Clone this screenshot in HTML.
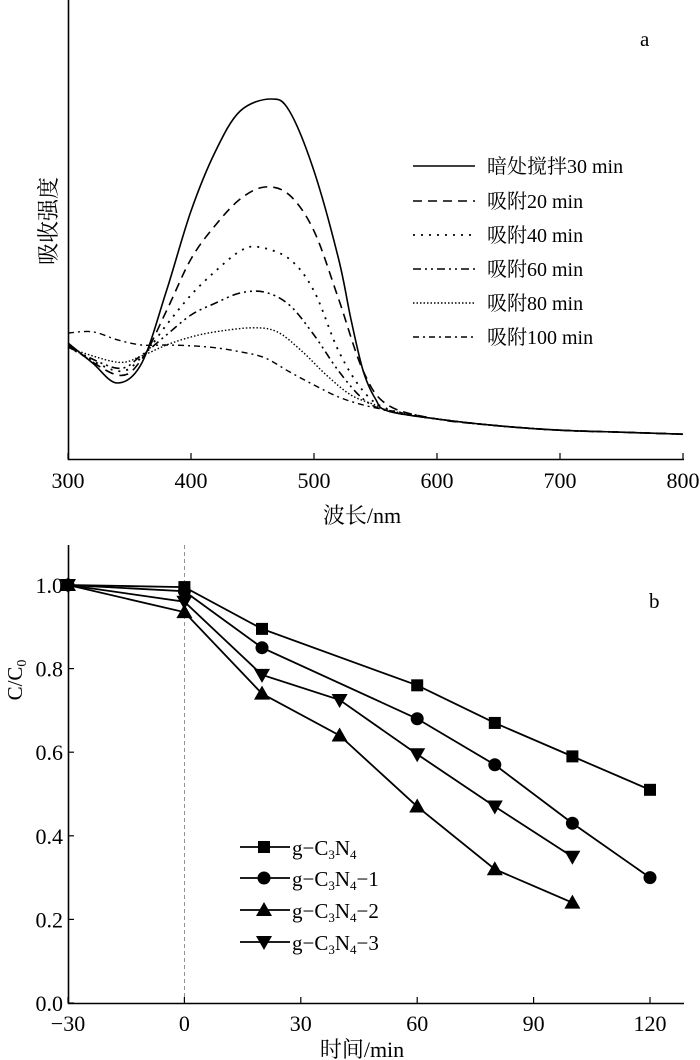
<!DOCTYPE html>
<html><head><meta charset="utf-8">
<style>
body{margin:0;background:#fff;}
svg{display:block;font-family:"Liberation Serif","Noto Serif CJK SC",serif;}
</style></head>
<body>
<svg id="chart" width="700" height="1060" viewBox="0 0 700 1060" xmlns="http://www.w3.org/2000/svg">
<g id="topChart"></g>
<g id="botChart"></g>
</svg>
<script>
// ---- Chart a data ----
const tailWl = [600, 650, 700, 750, 800];
const tailAbs = [0.10, 0.083, 0.072, 0.067, 0.062];
const wlSolid = [300,320,340,360,380,400,420,440,465,480,500,520,530,540,550,560];
const absSolid = [0.29,0.24,0.19,0.24,0.42,0.62,0.77,0.87,0.90,0.87,0.72,0.50,0.35,0.22,0.15,0.12];
const wl20 = [300,340,360,380,400,420,440,460,480,500,520,540,560];
const abs20 = [0.285,0.21,0.25,0.37,0.50,0.585,0.65,0.68,0.66,0.57,0.40,0.22,0.135];
const wl40 = [300,340,360,380,400,420,440,455,480,500,520,540,560];
const abs40 = [0.28,0.22,0.255,0.335,0.41,0.47,0.52,0.53,0.50,0.42,0.27,0.17,0.125];
const wl60 = [300,340,360,380,400,420,440,460,480,500,520,540,560];
const abs60 = [0.28,0.227,0.26,0.31,0.36,0.39,0.415,0.417,0.385,0.31,0.22,0.15,0.12];
const wl80 = [300,340,360,380,400,420,450,470,490,510,530,550,560];
const abs80 = [0.278,0.242,0.258,0.285,0.305,0.318,0.328,0.318,0.27,0.21,0.16,0.135,0.122];
const wl100 = [300,320,340,360,380,400,420,440,460,480,500,520,540,560,580];
const abs100 = [0.315,0.318,0.298,0.285,0.285,0.283,0.278,0.268,0.253,0.218,0.185,0.155,0.135,0.122,0.112];
const legendA = ["暗处搅拌30 min","吸附20 min","吸附40 min","吸附60 min","吸附80 min","吸附100 min"];
const xTicksA = [300,400,500,600,700,800];

// ---- Chart b data ----
const timeTicks = [-30,0,30,60,90,120];
const cTicks = [0.0,0.2,0.4,0.6,0.8,1.0];
const tA = [-30,0,20,60,80,100,120];
const cA = [1.0,0.995,0.895,0.76,0.67,0.59,0.51];
const tB = [-30,0,20,60,80,100,120];
const cB = [1.0,0.985,0.85,0.68,0.57,0.43,0.30];
const tC = [-30,0,20,40,60,80,100];
const cC = [1.0,0.935,0.74,0.64,0.47,0.32,0.24];
const tD = [-30,0,20,40,60,80,100];
const cD = [1.0,0.96,0.785,0.725,0.595,0.47,0.35];

const NS="http://www.w3.org/2000/svg";
function mk(tag, attrs, parent){const el=document.createElementNS(NS,tag);for(const k in attrs)el.setAttribute(k,attrs[k]);parent.appendChild(el);return el;}

// ===== Chart a =====
const gTop=document.getElementById('topChart');
const xa=v=>68+(v-300)*615/500;
const ya=v=>459-v*400;
let e;
e=mk('path',{d:'M68.5 0 V459.5 H684',stroke:'#000','stroke-width':1.6,fill:'none'},gTop);


xTicksA.forEach(t=>{
  e=mk('line',{x1:xa(t),x2:xa(t),y1:459,y2:453,stroke:'#000','stroke-width':1.2},gTop);
  
  
  e=mk('text',{x:xa(t),y:488,'font-size':22,'text-anchor':'middle'},gTop);e.textContent=t;
  
  
});
e=mk('text',{x:362,y:523,'font-size':22,'text-anchor':'middle'},gTop);e.textContent='波长/nm';


e=mk('text',{x:0,y:0,'font-size':22,'text-anchor':'middle',transform:'translate(56,221) rotate(-90)'},gTop);e.textContent='吸收强度';


e=mk('text',{x:640,y:46,'font-size':21},gTop);e.textContent='a';


const seriesA=[[wlSolid,absSolid,'none',1.6],[wl20,abs20,'9 6',1.6],[wl40,abs40,'2 6',1.8],[wl60,abs60,'8 4 2 4 2 4',1.6],[wl80,abs80,'1.5 2',1.4],[wl100,abs100,'6 4 2 4',1.4]];
const names=['curve-dark-30min','curve-ads-20min','curve-ads-40min','curve-ads-60min','curve-ads-80min','curve-ads-100min'];
function smooth(pts){let d='M'+pts[0][0]+' '+pts[0][1];for(let i=0;i<pts.length-1;i++){const p0=pts[i-1]||pts[i],p1=pts[i],p2=pts[i+1],p3=pts[i+2]||p2;const c1x=p1[0]+(p2[0]-p0[0])/6,c1y=p1[1]+(p2[1]-p0[1])/6,c2x=p2[0]-(p3[0]-p1[0])/6,c2y=p2[1]-(p3[1]-p1[1])/6;d+=` C${c1x} ${c1y} ${c2x} ${c2y} ${p2[0]} ${p2[1]}`;}return d;}
seriesA.forEach((s,i)=>{
  const last=s[0][s[0].length-1];
  const wl=s[0].slice(), ab=s[1].slice();
  tailWl.forEach((w,j)=>{ if(w>last){wl.push(w);ab.push(tailAbs[j]);} });
  const pts=wl.map((w,j)=>[xa(w),ya(ab[j])]);
  e=mk('path',{d:smooth(pts),stroke:'#000','stroke-width':s[3],fill:'none','stroke-dasharray':s[2]},gTop);
  
  
  const ly=[166,201,235,269,303,337][i];
  e=mk('line',{x1:413,x2:475,y1:ly,y2:ly,stroke:'#000','stroke-width':s[3],'stroke-dasharray':s[2]},gTop);
  
  
  e=mk('text',{x:487,y:ly+7,'font-size':20},gTop);e.textContent=legendA[i];
  
  
});

// ===== Chart b =====
const gBot=document.getElementById('botChart');
const xb=v=>184.4+v*582/150;
const yb=v=>1003-v*418;
e=mk('path',{d:'M68.5 545 V1003.5 H684',stroke:'#000','stroke-width':1.6,fill:'none'},gBot);


e=mk('line',{x1:xb(0),x2:xb(0),y1:545,y2:1003,stroke:'#777','stroke-width':0.8,'stroke-dasharray':'4 3'},gBot);


timeTicks.forEach(t=>{
  e=mk('line',{x1:xb(t),x2:xb(t),y1:1003,y2:997,stroke:'#000','stroke-width':1.2},gBot);
  
  
  e=mk('text',{x:xb(t),y:1031,'font-size':22,'text-anchor':'middle'},gBot);e.textContent=(t<0?'−'+(-t):t);
  
  
});
cTicks.forEach(t=>{
  e=mk('line',{x1:68,x2:74,y1:yb(t),y2:yb(t),stroke:'#000','stroke-width':1.2},gBot);
  
  
  e=mk('text',{x:63,y:yb(t)+8,'font-size':22,'text-anchor':'end'},gBot);e.textContent=t.toFixed(1);
  
  
});
e=mk('text',{x:362,y:1057,'font-size':22,'text-anchor':'middle'},gBot);e.textContent='时间/min';


e=mk('text',{x:0,y:0,'font-size':21,'text-anchor':'middle',transform:'translate(22,680) rotate(-90)'},gBot);
e.innerHTML='C/C<tspan font-size="14" dy="4">0</tspan>';


e=mk('text',{x:649,y:608,'font-size':21},gBot);e.textContent='b';


function marker(type,x,y,g){
  let m;
  if(type==='sq') m=mk('rect',{x:x-6,y:y-6,width:12,height:12,fill:'#000'},g);
  else if(type==='ci') m=mk('circle',{cx:x,cy:y,r:6.5,fill:'#000'},g);
  else if(type==='up') m=mk('polygon',{points:`${x},${y-8} ${x-8},${y+6} ${x+8},${y+6}`,fill:'#000'},g);
  else m=mk('polygon',{points:`${x},${y+8} ${x-8},${y-6} ${x+8},${y-6}`,fill:'#000'},g);
  return m;
}
const seriesB=[[tA,cA,'sq','','series-gc3n4'],[tB,cB,'ci','−1','series-gc3n4-1'],[tC,cC,'up','−2','series-gc3n4-2'],[tD,cD,'dn','−3','series-gc3n4-3']];
seriesB.forEach((s,i)=>{
  const pts=s[0].map((t,j)=>xb(t)+','+yb(s[1][j])).join(' ');
  e=mk('polyline',{points:pts,stroke:'#000','stroke-width':1.8,fill:'none'},gBot);
  
  
  s[0].forEach((t,j)=>{
    e=marker(s[2],xb(t),yb(s[1][j]),gBot);
    
    
  });
  const ly=[847,878,910,942][i];
  e=mk('line',{x1:240,x2:290,y1:ly,y2:ly,stroke:'#000','stroke-width':1.8},gBot);
  
  
  e=marker(s[2],264,ly,gBot);
  
  
  e=mk('text',{x:292,y:ly+8,'font-size':21},gBot);
  e.innerHTML='g−C<tspan font-size="13" dy="4">3</tspan><tspan dy="-4">N</tspan><tspan font-size="13" dy="4">4</tspan><tspan dy="-4">'+s[3]+'</tspan>';
  
  
});
</script>
</body></html>
